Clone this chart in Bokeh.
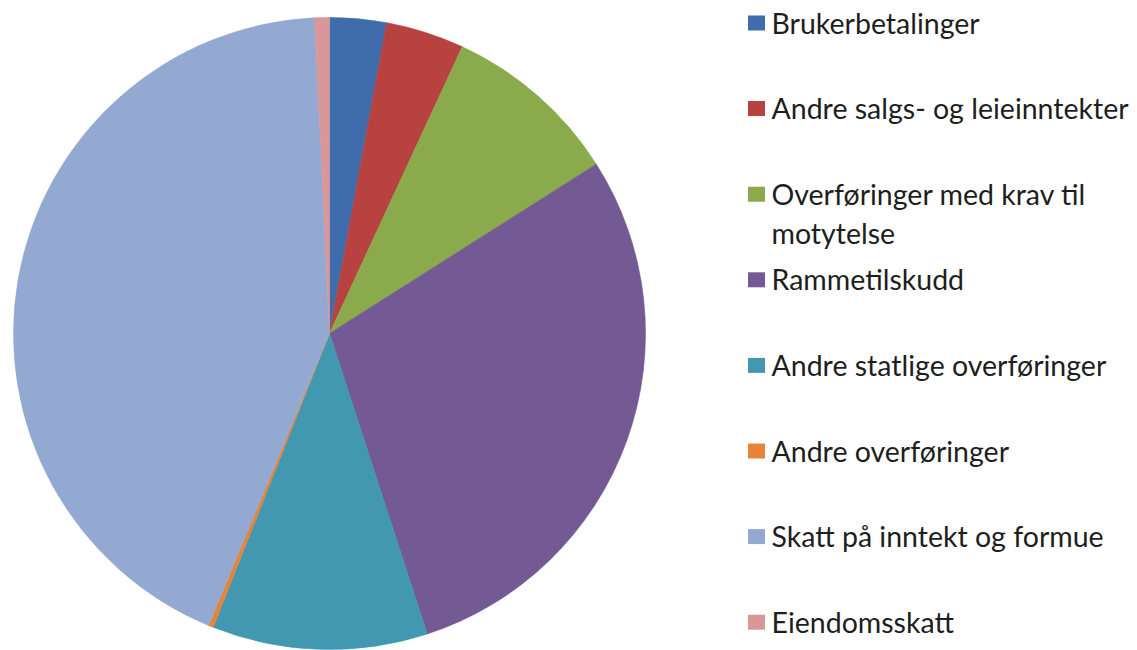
import numpy as np
from bokeh.plotting import figure
from bokeh.models import Range1d, ColumnDataSource
from bokeh.core.properties import value
from bokeh.embed import file_html
from bokeh.resources import INLINE

categories = [
    "Brukerbetalinger",
    "Andre salgs- og leieinntekter",
    "Overføringer med krav til\nmotytelse",
    "Rammetilskudd",
    "Andre statlige overføringer",
    "Andre overføringer",
    "Skatt på inntekt og formue",
    "Eiendomsskatt",
]
shares = [2.9, 4.0, 9.1, 29.0, 11.0, 0.25, 43.0, 0.75]
colors = ["#3F6DAB", "#B7423F", "#8AAA4B", "#735A94", "#4298B1", "#E8843A", "#94A9D1", "#D9979A"]

W, H = 1137, 650
p = figure(width=W, height=H, x_range=Range1d(0, W), y_range=Range1d(0, H),
           x_axis_type=None, y_axis_type=None, toolbar_location=None,
           output_backend="svg", min_border=0, outline_line_color=None)
p.grid.visible = False
p.background_fill_color = "white"
p.border_fill_color = "white"

# pie geometry (data units == pixels)
cx, cy, r = 329, H - 333, 316
frac = np.array(shares) / np.sum(shares)
cum = np.concatenate([[0.0], np.cumsum(frac)])
start = np.pi / 2 - 2 * np.pi * cum[:-1]
end = np.pi / 2 - 2 * np.pi * cum[1:]
src = ColumnDataSource(dict(start=start, end=end, color=colors, label=categories))
p.wedge(x=cx, y=cy, radius=r, start_angle="start", end_angle="end", direction="clock",
        fill_color="color", line_color="color", line_width=0.6, source=src)

# legend
n = len(categories)
step = 85.6
baseline = np.array([H - (32 + step * i) for i in range(n)])
p.rect(x=[756] * n, y=baseline + 9.5, width=17, height=15, fill_color=colors, line_color=None)

tx, ty, tt = [], [], []
for i, lab in enumerate(categories):
    for j, line in enumerate(lab.split("\n")):
        tx.append(771)
        ty.append(baseline[i] + 10 - 39 * j)
        tt.append(line)
p.text(x=tx, y=ty, text=tt, text_font=value("Lato"),
       text_font_size="28.5px", text_color="#1E1E1E", text_baseline="alphabetic",
       text_align="left")

open("out.html", "w").write(file_html(p, INLINE))
